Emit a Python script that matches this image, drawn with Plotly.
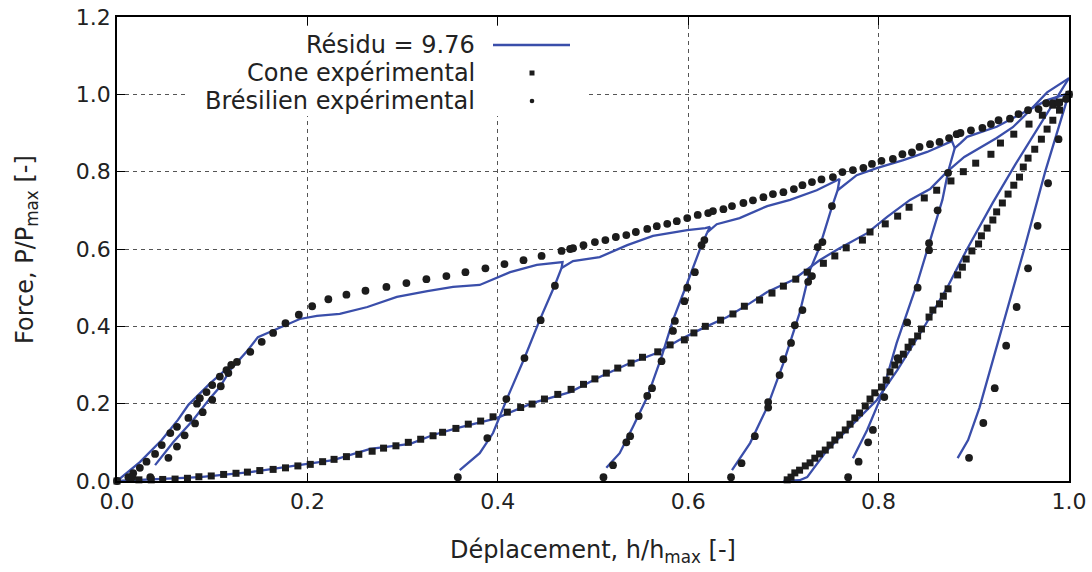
import plotly.graph_objects as go

# ---------------- data ----------------
# Brazilian experimental: loading envelope
bre_load_x = [0.000, 0.012, 0.017, 0.024, 0.031, 0.040, 0.047, 0.056, 0.063, 0.075, 0.084, 0.087, 0.094, 0.100,
              0.108, 0.115, 0.120, 0.126, 0.140, 0.152, 0.164, 0.177, 0.191, 0.205, 0.222, 0.241, 0.261, 0.283,
              0.304, 0.325, 0.346, 0.366, 0.387, 0.407, 0.427, 0.446, 0.467, 0.476, 0.479, 0.490, 0.502, 0.513,
              0.524, 0.535, 0.545, 0.557, 0.567, 0.578, 0.588, 0.599, 0.610, 0.621, 0.626, 0.637, 0.646, 0.658,
              0.668, 0.679, 0.689, 0.700, 0.711, 0.720, 0.730, 0.740, 0.752, 0.762, 0.773, 0.784, 0.793, 0.803,
              0.815, 0.825, 0.835, 0.843, 0.854, 0.864, 0.874, 0.882, 0.886, 0.897, 0.909, 0.918, 0.926, 0.938,
              0.947, 0.957, 0.968, 0.976, 0.983, 0.989, 0.997, 1.000]
bre_load_y = [0.000, 0.010, 0.020, 0.034, 0.050, 0.070, 0.093, 0.124, 0.140, 0.163, 0.200, 0.214, 0.230, 0.248,
              0.270, 0.287, 0.300, 0.308, 0.334, 0.360, 0.383, 0.408, 0.430, 0.452, 0.470, 0.482, 0.492, 0.502,
              0.512, 0.522, 0.530, 0.540, 0.550, 0.561, 0.571, 0.582, 0.595, 0.600, 0.602, 0.610, 0.618, 0.623,
              0.631, 0.636, 0.644, 0.652, 0.659, 0.665, 0.672, 0.680, 0.688, 0.693, 0.698, 0.703, 0.711, 0.719,
              0.726, 0.734, 0.742, 0.747, 0.755, 0.765, 0.773, 0.780, 0.786, 0.799, 0.804, 0.810, 0.820, 0.828,
              0.833, 0.845, 0.850, 0.864, 0.871, 0.877, 0.887, 0.897, 0.900, 0.907, 0.913, 0.923, 0.933, 0.937,
              0.949, 0.959, 0.962, 0.977, 0.977, 0.977, 0.988, 1.000]
# Brazilian experimental: unloading branches
bre_unl0_x = [0.117, 0.109, 0.100, 0.090, 0.082, 0.071, 0.063, 0.054, 0.035, 0.016]
bre_unl0_y = [0.279, 0.245, 0.210, 0.178, 0.149, 0.118, 0.089, 0.060, 0.010, 0.010]
bre_unl1_x = [0.460, 0.445, 0.428, 0.409, 0.389, 0.358]
bre_unl1_y = [0.505, 0.416, 0.318, 0.212, 0.111, 0.010]
bre_unl2_x = [0.617, 0.614, 0.607, 0.599, 0.596, 0.586, 0.584, 0.572, 0.562, 0.557, 0.548, 0.539, 0.535, 0.521, 0.511]
bre_unl2_y = [0.623, 0.610, 0.540, 0.500, 0.465, 0.414, 0.388, 0.310, 0.240, 0.220, 0.168, 0.116, 0.100, 0.041, 0.010]
bre_unl3_x = [0.751, 0.741, 0.736, 0.730, 0.726, 0.720, 0.712, 0.708, 0.700, 0.696, 0.684, 0.684, 0.670, 0.656, 0.645]
bre_unl3_y = [0.711, 0.618, 0.605, 0.530, 0.515, 0.442, 0.403, 0.357, 0.315, 0.274, 0.204, 0.190, 0.116, 0.046, 0.010]
bre_unl4_x = [0.873, 0.862, 0.853, 0.853, 0.841, 0.830, 0.820, 0.806, 0.794, 0.789, 0.779, 0.768]
bre_unl4_y = [0.797, 0.700, 0.615, 0.597, 0.500, 0.410, 0.318, 0.217, 0.132, 0.100, 0.050, 0.010]
bre_unl5_x = [0.989, 0.978, 0.967, 0.957, 0.945, 0.934, 0.922, 0.910, 0.895]
bre_unl5_y = [0.884, 0.770, 0.660, 0.550, 0.450, 0.350, 0.240, 0.150, 0.060]

# Cone experimental: loading and unloading
cone_load_x = [0.000, 0.023, 0.036, 0.048, 0.061, 0.074, 0.086, 0.099, 0.112, 0.125, 0.137, 0.150, 0.164, 0.177,
               0.190, 0.203, 0.216, 0.228, 0.241, 0.254, 0.268, 0.280, 0.293, 0.306, 0.319, 0.332, 0.342, 0.356,
               0.369, 0.382, 0.395, 0.410, 0.424, 0.436, 0.449, 0.463, 0.477, 0.490, 0.502, 0.514, 0.526, 0.540,
               0.552, 0.568, 0.581, 0.596, 0.606, 0.618, 0.634, 0.647, 0.659, 0.675, 0.688, 0.700, 0.713, 0.725,
               0.742, 0.754, 0.766, 0.783, 0.791, 0.807, 0.820, 0.832, 0.848, 0.861, 0.876, 0.889, 0.902, 0.918,
               0.928, 0.942, 0.958, 0.972, 0.983, 0.990, 1.000]
cone_load_y = [0.000, 0.003, 0.003, 0.004, 0.005, 0.007, 0.011, 0.013, 0.017, 0.020, 0.023, 0.027, 0.030, 0.034,
               0.039, 0.043, 0.050, 0.056, 0.063, 0.069, 0.077, 0.085, 0.091, 0.100, 0.108, 0.117, 0.126, 0.136,
               0.147, 0.155, 0.166, 0.178, 0.190, 0.199, 0.212, 0.224, 0.237, 0.250, 0.264, 0.279, 0.292, 0.305,
               0.320, 0.334, 0.352, 0.365, 0.383, 0.400, 0.416, 0.432, 0.452, 0.468, 0.486, 0.504, 0.522, 0.540,
               0.563, 0.582, 0.603, 0.623, 0.644, 0.665, 0.685, 0.708, 0.732, 0.752, 0.776, 0.800, 0.822, 0.845,
               0.874, 0.897, 0.923, 0.946, 0.972, 0.980, 1.000]
cone_unl_x = [0.990, 0.983, 0.977, 0.971, 0.964, 0.957, 0.952, 0.948, 0.942, 0.936, 0.930, 0.924, 0.920, 0.914,
              0.908, 0.905, 0.898, 0.892, 0.888, 0.883, 0.873, 0.868, 0.864, 0.857, 0.853, 0.845, 0.841, 0.835,
              0.831, 0.826, 0.821, 0.817, 0.812, 0.808, 0.803, 0.796, 0.791, 0.786, 0.780, 0.775, 0.770, 0.765,
              0.759, 0.754, 0.749, 0.744, 0.738, 0.733, 0.728, 0.723, 0.717, 0.712, 0.708, 0.704]
cone_unl_y = [0.959, 0.933, 0.910, 0.884, 0.858, 0.835, 0.812, 0.786, 0.765, 0.742, 0.719, 0.696, 0.675, 0.654,
              0.634, 0.613, 0.595, 0.574, 0.553, 0.533, 0.497, 0.478, 0.458, 0.442, 0.424, 0.393, 0.375, 0.360,
              0.346, 0.328, 0.313, 0.300, 0.282, 0.261, 0.243, 0.228, 0.212, 0.194, 0.176, 0.163, 0.147, 0.132,
              0.119, 0.106, 0.093, 0.080, 0.070, 0.059, 0.047, 0.039, 0.028, 0.021, 0.010, 0.003]

# Simulation (Résidu = 9.76): Brazilian envelope + unloading branches
sim_bre_x = [0.000, 0.024, 0.047, 0.064, 0.075, 0.098, 0.120, 0.128, 0.136, 0.148, 0.163, 0.177, 0.192, 0.210,
             0.234, 0.263, 0.294, 0.326, 0.353, 0.381, 0.399, 0.413, 0.441, 0.468, 0.467, 0.479, 0.507, 0.536,
             0.563, 0.599, 0.618, 0.623, 0.620, 0.630, 0.654, 0.683, 0.707, 0.735, 0.759, 0.757, 0.777, 0.798,
             0.826, 0.851, 0.877, 0.880, 0.886, 0.893, 0.924, 0.956, 0.977, 1.000]
sim_bre_y = [0.000, 0.049, 0.106, 0.158, 0.197, 0.253, 0.300, 0.312, 0.334, 0.372, 0.388, 0.403, 0.419, 0.427,
             0.432, 0.450, 0.476, 0.491, 0.502, 0.507, 0.525, 0.540, 0.559, 0.566, 0.551, 0.569, 0.579, 0.610,
             0.634, 0.649, 0.654, 0.657, 0.643, 0.664, 0.680, 0.711, 0.727, 0.752, 0.781, 0.752, 0.791, 0.809,
             0.830, 0.851, 0.879, 0.861, 0.874, 0.890, 0.916, 0.959, 0.985, 1.003]
sim_unl0_x = [0.128, 0.119, 0.108, 0.098, 0.080, 0.059, 0.040]
sim_unl0_y = [0.312, 0.287, 0.243, 0.215, 0.158, 0.100, 0.041]
sim_unl1_x = [0.467, 0.460, 0.444, 0.428, 0.410, 0.395, 0.381, 0.360]
sim_unl1_y = [0.551, 0.507, 0.416, 0.318, 0.215, 0.124, 0.072, 0.028]
sim_unl2_x = [0.620, 0.612, 0.599, 0.584, 0.572, 0.557, 0.542, 0.528, 0.514]
sim_unl2_y = [0.643, 0.597, 0.512, 0.416, 0.321, 0.217, 0.140, 0.072, 0.034]
sim_unl3_x = [0.757, 0.751, 0.738, 0.728, 0.717, 0.700, 0.683, 0.665, 0.646]
sim_unl3_y = [0.752, 0.709, 0.605, 0.546, 0.434, 0.305, 0.191, 0.098, 0.028]
sim_unl4_x = [0.880, 0.873, 0.867, 0.854, 0.840, 0.819, 0.803, 0.788, 0.773]
sim_unl4_y = [0.861, 0.800, 0.727, 0.623, 0.507, 0.357, 0.220, 0.132, 0.059]
sim_unl5_x = [1.000, 0.975, 0.953, 0.930, 0.906, 0.894, 0.883]
sim_unl5_y = [1.003, 0.800, 0.600, 0.400, 0.190, 0.106, 0.059]
# Simulation: cone loading + unloading
sim_cone_x = [0.000, 0.087, 0.140, 0.171, 0.203, 0.227, 0.266, 0.308, 0.332, 0.357, 0.392, 0.402, 0.437, 0.476,
              0.507, 0.539, 0.567, 0.591, 0.616, 0.641, 0.665, 0.683, 0.710, 0.738, 0.759, 0.788, 0.809, 0.833,
              0.854, 0.872, 0.890, 0.924, 0.941, 0.956, 0.977, 1.000]
sim_cone_y = [0.000, 0.010, 0.023, 0.034, 0.047, 0.054, 0.083, 0.096, 0.119, 0.137, 0.158, 0.166, 0.202, 0.230,
              0.269, 0.305, 0.331, 0.365, 0.396, 0.424, 0.460, 0.489, 0.520, 0.571, 0.602, 0.641, 0.683, 0.727,
              0.755, 0.800, 0.838, 0.887, 0.915, 0.951, 1.005, 1.042]
sim_cone_unl_x = [1.000, 0.965, 0.944, 0.920, 0.893, 0.872, 0.847, 0.820, 0.798, 0.770, 0.746, 0.725, 0.717, 0.700]
sim_cone_unl_y = [1.042, 0.905, 0.820, 0.720, 0.600, 0.500, 0.395, 0.288, 0.209, 0.140, 0.080, 0.010, 0.002, 0.000]

x_ticks = [0.0, 0.2, 0.4, 0.6, 0.8, 1.0]
x_ticklabels = ["0.0", "0.2", "0.4", "0.6", "0.8", "1.0"]
y_ticks = [0.0, 0.2, 0.4, 0.6, 0.8, 1.0, 1.2]
y_ticklabels = ["0.0", "0.2", "0.4", "0.6", "0.8", "1.0", "1.2"]

legend_labels = ["Résidu = 9.76", "Cone expérimental", "Brésilien expérimental"]

# ---------------- styles ----------------
BLUE = "#3a4eaa"
DARK = "#1c1c1c"
FONT = "DejaVu Sans"

fig = go.Figure()

sim_segments = [(sim_bre_x, sim_bre_y), (sim_unl0_x, sim_unl0_y), (sim_unl1_x, sim_unl1_y),
                (sim_unl2_x, sim_unl2_y), (sim_unl3_x, sim_unl3_y), (sim_unl4_x, sim_unl4_y),
                (sim_unl5_x, sim_unl5_y), (sim_cone_x, sim_cone_y), (sim_cone_unl_x, sim_cone_unl_y)]
for sx, sy in sim_segments:
    fig.add_trace(go.Scatter(x=sx, y=sy, mode="lines", line=dict(color=BLUE, width=2.3),
                             showlegend=False, hoverinfo="skip", cliponaxis=False))

cone_x = cone_load_x + cone_unl_x
cone_y = cone_load_y + cone_unl_y
fig.add_trace(go.Scatter(x=cone_x, y=cone_y, mode="markers",
                         marker=dict(symbol="square", size=7, color=DARK, line=dict(width=0)),
                         showlegend=False, cliponaxis=False))

bre_x = bre_load_x + bre_unl0_x + bre_unl1_x + bre_unl2_x + bre_unl3_x + bre_unl4_x + bre_unl5_x
bre_y = bre_load_y + bre_unl0_y + bre_unl1_y + bre_unl2_y + bre_unl3_y + bre_unl4_y + bre_unl5_y
fig.add_trace(go.Scatter(x=bre_x, y=bre_y, mode="markers",
                         marker=dict(symbol="circle", size=7.8, color=DARK, line=dict(width=0)),
                         showlegend=False, cliponaxis=False))

# ---------------- layout ----------------
L, R, T, B = 117, 23, 17, 91
W, H = 1092, 572
pw, ph = W - L - R, H - T - B


def px_x(p):
    return (p - L) / pw


def px_y(p):
    return (H - B - p) / ph


axis_common = dict(showline=True, linecolor="#000", linewidth=1.5, mirror="allticks",
                   ticks="inside", ticklen=8, tickwidth=1.2, tickcolor="#000",
                   showgrid=True, gridcolor="#555", gridwidth=1, griddash="4px,4px",
                   zeroline=False, automargin=False,
                   tickfont=dict(family=FONT, size=22, color="#222"))

fig.update_layout(
    width=W, height=H,
    margin=dict(l=L, r=R, t=T, b=B, pad=0),
    paper_bgcolor="white", plot_bgcolor="white",
    showlegend=False,
    xaxis=dict(range=[0, 1], tickvals=x_ticks, ticktext=x_ticklabels, **axis_common),
    yaxis=dict(range=[0, 1.2], tickvals=y_ticks, ticktext=y_ticklabels, **axis_common),
)

# legend box (opaque, no border) + entries drawn in gnuplot style
shapes = [dict(type="rect", xref="paper", yref="paper", layer="above",
               x0=px_x(186), x1=px_x(585), y0=px_y(116), y1=px_y(26),
               fillcolor="white", line=dict(width=0))]
row_y = [45, 73, 101]
shapes.append(dict(type="line", xref="paper", yref="paper", layer="above",
                   x0=px_x(493), x1=px_x(570), y0=px_y(row_y[0]), y1=px_y(row_y[0]),
                   line=dict(color=BLUE, width=2.3)))
shapes.append(dict(type="rect", xref="paper", yref="paper", layer="above",
                   xsizemode="pixel", ysizemode="pixel", xanchor=px_x(532), yanchor=px_y(row_y[1]),
                   x0=-2.5, x1=2.5, y0=-2.5, y1=2.5, fillcolor=DARK, line=dict(width=0)))
shapes.append(dict(type="circle", xref="paper", yref="paper", layer="above",
                   xsizemode="pixel", ysizemode="pixel", xanchor=px_x(532), yanchor=px_y(row_y[2]),
                   x0=-2.3, x1=2.3, y0=-2.3, y1=2.3, fillcolor=DARK, line=dict(width=0)))
fig.update_layout(shapes=shapes)

annotations = []
for lab, ry in zip(legend_labels, row_y):
    annotations.append(dict(x=px_x(477), y=px_y(ry), xref="paper", yref="paper", text=lab,
                            showarrow=False, xanchor="right", yanchor="middle",
                            font=dict(family=FONT, size=24, color="#222")))
annotations.append(dict(x=px_x(593), y=px_y(551), xref="paper", yref="paper",
                        text="Déplacement, h/h<sub>max</sub> [-]", showarrow=False,
                        xanchor="center", yanchor="middle",
                        font=dict(family=FONT, size=24, color="#222")))
annotations.append(dict(x=px_x(26), y=px_y(250), xref="paper", yref="paper",
                        text="Force, P/P<sub>max</sub> [-]", showarrow=False, textangle=-90,
                        xanchor="center", yanchor="middle",
                        font=dict(family=FONT, size=24, color="#222")))
fig.update_layout(annotations=annotations)

fig.write_html("out.html", config={"displayModeBar": False},
               post_script="document.body.style.margin='0px';")
